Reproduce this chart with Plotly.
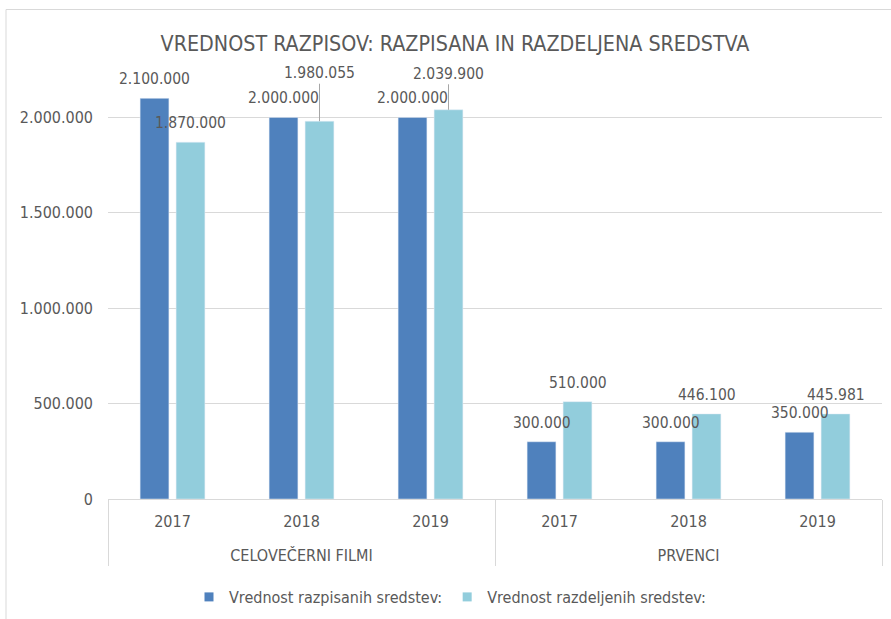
import plotly.graph_objects as go

groups = ["CELOVEČERNI FILMI"] * 3 + ["PRVENCI"] * 3
years = ["2017", "2018", "2019", "2017", "2018", "2019"]
razpisana = [2100000, 2000000, 2000000, 300000, 300000, 350000]
razdeljena = [1870000, 1980055, 2039900, 510000, 446100, 445981]
series_names = ["Vrednost razpisanih sredstev:", "Vrednost razdeljenih sredstev:"]
y_ticks = [0, 500000, 1000000, 1500000, 2000000]

FONT = "DejaVu Sans Condensed, sans-serif"
TXT = "#595959"
C1, C2 = "#4F81BD", "#92CDDC"
BARGAP, GROUPGAP = 0.442, 0.2

def fmt(v):
    return f"{v:,}".replace(",", ".")

# group labels sit one line lower, like the reference
group_labels = ["<br>" + g for g in groups]

fig = go.Figure()
fig.add_bar(x=[group_labels, years], y=razpisana, name=series_names[0], marker_color=C1,
            showlegend=False, legendgroup="a")
fig.add_bar(x=[group_labels, years], y=razdeljena, name=series_names[1], marker_color=C2,
            showlegend=False, legendgroup="b")
# legend entries with small square swatches
for nm, col, lg in [(series_names[0], C1, "a"), (series_names[1], C2, "b")]:
    fig.add_scatter(x=[None], y=[None], mode="markers", name=nm, legendgroup=lg,
                    marker=dict(symbol="square", size=9, color=col))

slot = (1 - BARGAP) / 2
offs = [-slot / 2, slot / 2]
annotations = []
displaced = {1: -48, 2: -36}
LBL = dict(family=FONT, size=15.5, color=TXT)
for s, vals in enumerate([razpisana, razdeljena]):
    for i, v in enumerate(vals):
        if s == 1 and i in displaced:
            annotations.append(dict(x=i + offs[s], y=v, xref="x", yref="y", text=fmt(v),
                                    showarrow=True, arrowhead=0, arrowwidth=1, arrowcolor="#A6A6A6",
                                    ax=0, ay=displaced[i], standoff=0, font=LBL))
        else:
            annotations.append(dict(x=i + offs[s], y=v, xref="x", yref="y", text=fmt(v),
                                    showarrow=False, yanchor="bottom", yshift=8, font=LBL))

pw = 891 - 108 - 9
ph = 499 - 21.5
fig.add_shape(type="rect", xref="paper", yref="paper",
              x0=(6 - 108) / pw, x1=(900 - 108) / pw,
              y0=(499 - 640) / ph, y1=(499 - 9) / ph,
              line=dict(color="#D9D9D9", width=1), layer="below")

fig.update_layout(
    width=891, height=619,
    margin=dict(l=108, r=9, t=21.5, b=120, autoexpand=False),
    paper_bgcolor="white", plot_bgcolor="white",
    separators=",.",
    bargap=BARGAP, bargroupgap=GROUPGAP,
    font=dict(family=FONT, color=TXT, size=16),
    title=dict(text="VREDNOST RAZPISOV: RAZPISANA IN RAZDELJENA SREDSTVA",
               x=455 / 891, xanchor="center", xref="container",
               y=1 - 44 / 619, yanchor="middle", yref="container",
               font=dict(family=FONT, size=21.3, color=TXT)),
    legend=dict(orientation="h", x=450 / 891, xanchor="center", xref="container",
                y=1 - 597 / 619, yanchor="middle", yref="container",
                font=dict(family=FONT, size=16, color=TXT), itemwidth=30,
                tracegroupgap=0),
    annotations=annotations,
)
fig.update_xaxes(type="multicategory", showdividers=True, dividercolor="#D9D9D9", dividerwidth=1,
                 showline=True, linecolor="#D9D9D9", linewidth=1, showgrid=False, automargin=False,
                 ticklabelstandoff=8,
                 tickfont=dict(family=FONT, size=16, color=TXT))
fig.update_yaxes(range=[0, 2500000], tickvals=y_ticks, tickformat=",d", automargin=False,
                 showgrid=True, gridcolor="#D9D9D9", zeroline=False, showline=False,
                 ticklabelstandoff=14, tickfont=dict(family=FONT, size=16, color=TXT))

fig.write_html("out.html", post_script="document.body.style.margin='0';",
               config={"displayModeBar": False})
